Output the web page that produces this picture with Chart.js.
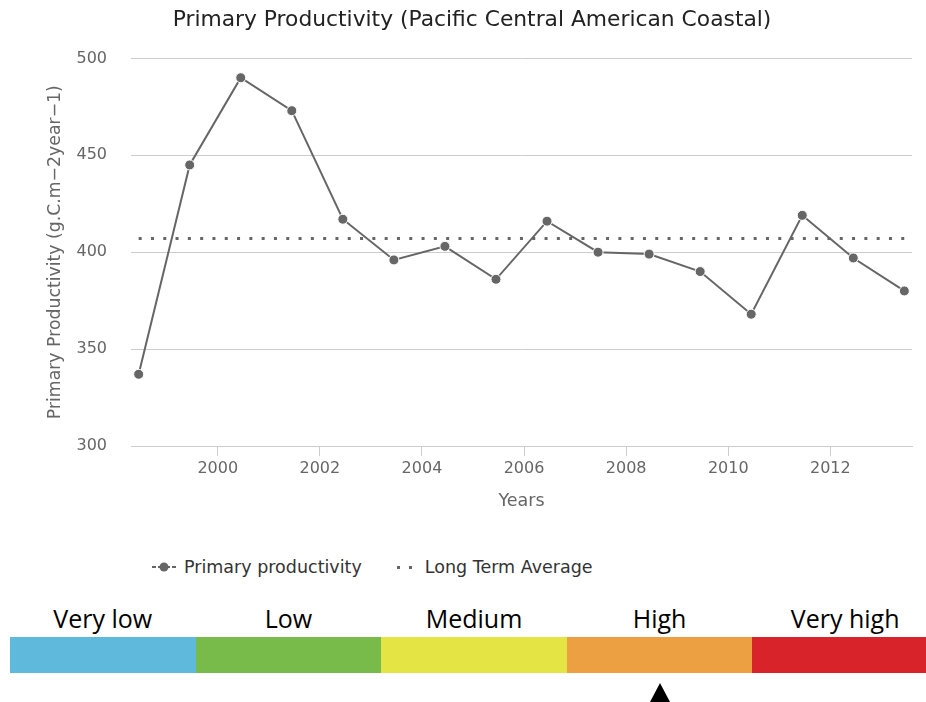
<!DOCTYPE html>
<html>
<head>
<meta charset="utf-8">
<script src="https://cdn.jsdelivr.net/npm/chart.js@4/dist/chart.umd.min.js"></script>
<style>
    body { margin: 0; background: #fff; width: 926px; height: 702px; position: relative; overflow: hidden; }
    #wrap { position: absolute; left: 0; top: 0; width: 926px; height: 530px; }
    #legend { position: absolute; left: 151px; top: 557px; font: 17.5px "DejaVu Sans", sans-serif; color: #333; display: flex; gap: 30px; }
    #legend .item { display: flex; align-items: center; }
    #legend canvas { margin-right: 7px; }
    #scale { position: absolute; left: 10px; top: 600px; width: 928px; }
    #scale .labels { display: flex; height: 37px; }
    #scale .labels div { flex: 1; text-align: center; font: 25px "Open Sans", sans-serif; color: #000; line-height: 37px; }
    #scale .bar { display: flex; height: 36px; }
    #scale .bar div { flex: 1; }
    #marker { position: absolute; left: 650px; top: 683px; width: 0; height: 0;
        border-left: 10px solid transparent; border-right: 10px solid transparent; border-bottom: 19px solid #000; }
</style>
</head>
<body>
<div id="wrap"><canvas id="pp-chart" width="926" height="530"></canvas></div>
<div id="legend"></div>
<div id="scale"><div class="labels"></div><div class="bar"></div></div>
<div id="marker"></div>
<script>
// Data
const years = [1998.45, 1999.45, 2000.45, 2001.45, 2002.45, 2003.45, 2004.45, 2005.45,
               2006.45, 2007.45, 2008.45, 2009.45, 2010.45, 2011.45, 2012.45, 2013.45];
const productivity = [337, 445, 490, 473, 417, 396, 403, 386, 416, 400, 399, 390, 368, 419, 397, 380];
const longTermAverage = [407, 407, 407, 407, 407, 407, 407, 407, 407, 407, 407, 407, 407, 407, 407, 407];
const xTicks = [2000, 2002, 2004, 2006, 2008, 2010, 2012];
const yTicks = [300, 350, 400, 450, 500];
const levelNames = ['Very low', 'Low', 'Medium', 'High', 'Very high'];
const levelColors = ['#5fb9dd', '#79bb4b', '#e4e445', '#eda042', '#d9232a'];

const gray = '#666666';
const gridColor = '#cccccc';

// Spodní stupnice
const labelsBox = document.querySelector('#scale .labels');
const barBox = document.querySelector('#scale .bar');
levelNames.forEach((name, i) => {
    const l = document.createElement('div');
    l.textContent = name;
    labelsBox.appendChild(l);
    const b = document.createElement('div');
    b.style.background = levelColors[i];
    barBox.appendChild(b);
});

// Vytvoření grafu
const ctx = document.getElementById('pp-chart').getContext('2d');
const chart = new Chart(ctx, {
    type: 'line',
    data: {
        datasets: [
            {
                label: 'Primary productivity',
                data: years.map((x, i) => ({ x: x, y: productivity[i] })),
                borderColor: gray,
                backgroundColor: gray,
                borderWidth: 2,
                pointRadius: 5,
                pointBorderColor: '#ffffff',
                pointBorderWidth: 1,
                pointBackgroundColor: gray,
                tension: 0
            },
            {
                label: 'Long Term Average',
                data: years.map((x, i) => ({ x: x, y: longTermAverage[i] })),
                borderColor: gray,
                borderWidth: 3,
                borderDash: [3, 9.3],
                pointRadius: 0,
                tension: 0
            }
        ]
    },
    options: {
        responsive: false,
        animation: false,
        // levý padding posouvá nadpis doprava jako v originále
        layout: { padding: { left: 32, right: 14, top: 0, bottom: 0 } },
        plugins: {
            legend: { display: false },
            tooltip: { enabled: false },
            title: {
                display: true,
                text: 'Primary Productivity (Pacific Central American Coastal)',
                color: '#222',
                font: { family: 'DejaVu Sans', size: 21.8, weight: 'normal', lineHeight: 1.2 },
                padding: { top: 7, bottom: 25.2 }
            }
        },
        scales: {
            x: {
                type: 'linear',
                min: 1998.3,
                max: 2013.6,
                afterFit: function(scale) { scale.height = 84; },
                afterBuildTicks: function(scale) { scale.ticks = xTicks.map(v => ({ value: v })); },
                border: { color: gridColor },
                grid: { drawOnChartArea: false, drawTicks: true, tickLength: 10, color: gridColor },
                ticks: {
                    color: gray,
                    padding: 3,
                    font: { family: 'DejaVu Sans', size: 16 },
                    callback: function(value) { return String(value); }
                },
                title: {
                    display: true,
                    text: 'Years',
                    color: gray,
                    font: { family: 'DejaVu Sans', size: 17.5, lineHeight: 1.2 },
                    padding: { top: 4, bottom: 18.5 }
                }
            },
            y: {
                min: 300,
                max: 500,
                afterFit: function(scale) { scale.width = 99; },
                afterBuildTicks: function(scale) { scale.ticks = yTicks.map(v => ({ value: v })); },
                border: { display: false },
                grid: { color: gridColor, drawTicks: false },
                ticks: {
                    color: gray,
                    padding: 24,
                    font: { family: 'DejaVu Sans', size: 16 },
                    callback: function(value) { return String(value); }
                },
                title: {
                    display: true,
                    text: 'Primary Productivity (g.C.m\u22122year\u22121)',
                    color: gray,
                    font: { family: 'DejaVu Sans', size: 17.3, lineHeight: 1.2 },
                    padding: { top: 13, bottom: 0 }
                }
            }
        }
    }
});

// Vlastní legenda
const legendBox = document.getElementById('legend');
chart.data.datasets.forEach((ds, i) => {
    const item = document.createElement('div');
    item.className = 'item';
    const c = document.createElement('canvas');
    c.width = 26; c.height = 16;
    const g = c.getContext('2d');
    g.strokeStyle = gray;
    g.fillStyle = gray;
    if (i === 0) {
        g.lineWidth = 2;
        g.beginPath(); g.moveTo(1, 8); g.lineTo(25, 8); g.stroke();
        g.strokeStyle = '#fff';
        g.beginPath(); g.moveTo(5, 8); g.lineTo(7, 8); g.moveTo(19, 8); g.lineTo(21, 8); g.stroke();
        g.beginPath(); g.arc(13, 8, 4.5, 0, Math.PI * 2); g.fill();
    } else {
        g.fillRect(5, 7, 3, 3);
        g.fillRect(17, 7, 3, 3);
    }
    item.appendChild(c);
    const t = document.createElement('span');
    t.textContent = ds.label;
    item.appendChild(t);
    legendBox.appendChild(item);
});
</script>
</body>
</html>
